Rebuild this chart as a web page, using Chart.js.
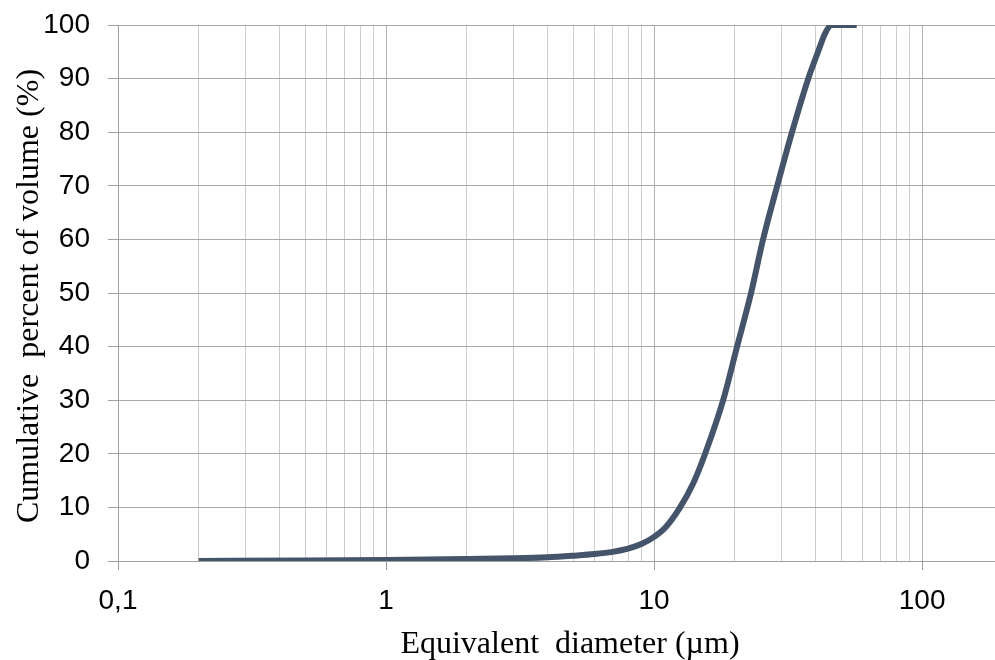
<!DOCTYPE html>
<html>
<head>
<meta charset="utf-8">
<script src="https://cdn.jsdelivr.net/npm/chart.js@4"></script>
<style>
  html, body { margin: 0; padding: 0; background: #fff; }
  #wrap { width: 995px; height: 660px; }
</style>
</head>
<body>
<div id="wrap"><canvas id="psdChart"></canvas></div>
<script>
// particle size distribution (cumulative volume)
var diameters = [0.2, 0.5, 1, 2, 3, 4, 5, 6, 7, 8, 9, 10, 11, 12.5, 14, 15.5, 18.1, 20.4, 23, 25.5, 28.8, 32.7, 37.6, 40.9, 43.5, 46, 57];
var cumVolume = [0, 0.1, 0.2, 0.35, 0.5, 0.7, 1.0, 1.3, 1.7, 2.3, 3.2, 4.5, 6.2, 10, 14.5, 20, 30, 40, 50, 60, 70, 80, 90, 95, 98.5, 100, 100];

// log axis ticks (grid at every 1..9 x 10^n), labels only on decades
var xTicks = [0.1, 0.2, 0.3, 0.4, 0.5, 0.6, 0.7, 0.8, 0.9,
              1, 2, 3, 4, 5, 6, 7, 8, 9,
              10, 20, 30, 40, 50, 60, 70, 80, 90, 100];
var xLabels = { 0.1: '0,1', 1: '1', 10: '10', 100: '100' };
var yTicks = [0, 10, 20, 30, 40, 50, 60, 70, 80, 90, 100];

var xTitle = 'Equivalent  diameter (\u00b5m)';
var yTitle = 'Cumulative  percent of volume (%)';

var points = diameters.map(function (d, i) { return { x: d, y: cumVolume[i] }; });

var sansFont = "'Liberation Sans', Arial, sans-serif";
var serifFont = "'Liberation Serif', 'Times New Roman', serif";

// axis titles drawn by hand so they sit where the original has them
var axisTitles = {
    id: 'axisTitles',
    afterDraw: function (chart) {
        var ctx = chart.ctx;
        ctx.save();
        ctx.fillStyle = '#000';
        ctx.font = '32px ' + serifFont;
        ctx.textAlign = 'center';
        ctx.textBaseline = 'alphabetic';
        ctx.fillText(xTitle, 570, 653);
        ctx.translate(38, 296);
        ctx.rotate(-Math.PI / 2);
        ctx.fillText(yTitle, 0, 0);
        ctx.restore();
    }
};

var ctx = document.getElementById('psdChart');
var myChart = new Chart(ctx, {
    type: 'scatter',
    data: {
        datasets: [{
            data: points,
            showLine: true,
            borderColor: '#44546a',
            borderWidth: 6,
            pointRadius: 0,
            cubicInterpolationMode: 'monotone',
            borderCapStyle: 'butt'
        }]
    },
    options: {
        responsive: true,
        maintainAspectRatio: false,
        animation: false,
        layout: { padding: { top: 25, right: 0, left: 0, bottom: 0 } },
        plugins: {
            legend: { display: false },
            tooltip: { enabled: false }
        },
        scales: {
            x: {
                type: 'logarithmic',
                min: 0.1,
                max: 187,
                afterBuildTicks: function (scale) {
                    scale.ticks = xTicks.map(function (v) { return { value: v }; });
                },
                afterFit: function (scale) {
                    scale.height = 99;
                    scale.paddingLeft = 0;
                    scale.paddingRight = 0;
                },
                ticks: {
                    autoSkip: false,
                    maxRotation: 0,
                    padding: 14,
                    color: '#000',
                    font: { family: sansFont, size: 28 },
                    callback: function (value) { return xLabels[value] || ''; }
                },
                grid: {
                    lineWidth: 1,
                    tickLength: 9,
                    color: function (c) {
                        var v = c.tick && c.tick.value;
                        if (v === 0.1) return 'rgba(0,0,0,0)';
                        return xLabels[v] ? '#b0b0b0' : '#cccccc';
                    },
                    tickColor: function (c) {
                        var v = c.tick && c.tick.value;
                        return xLabels[v] ? '#a0a0a0' : 'rgba(0,0,0,0)';
                    }
                },
                border: { display: true, color: '#a0a0a0', width: 1 }
            },
            y: {
                min: 0,
                max: 100,
                afterBuildTicks: function (scale) {
                    scale.ticks = yTicks.map(function (v) { return { value: v }; });
                },
                afterFit: function (scale) {
                    scale.width = 118;
                    scale.paddingTop = 0;
                    scale.paddingBottom = 0;
                },
                ticks: {
                    padding: 18,
                    color: '#000',
                    font: { family: sansFont, size: 28 }
                },
                grid: {
                    color: '#a8a8a8',
                    lineWidth: 1,
                    tickLength: 10,
                    tickColor: '#a0a0a0'
                },
                border: { display: true, color: '#a0a0a0', width: 1 }
            }
        }
    },
    plugins: [axisTitles]
});
</script>
</body>
</html>
